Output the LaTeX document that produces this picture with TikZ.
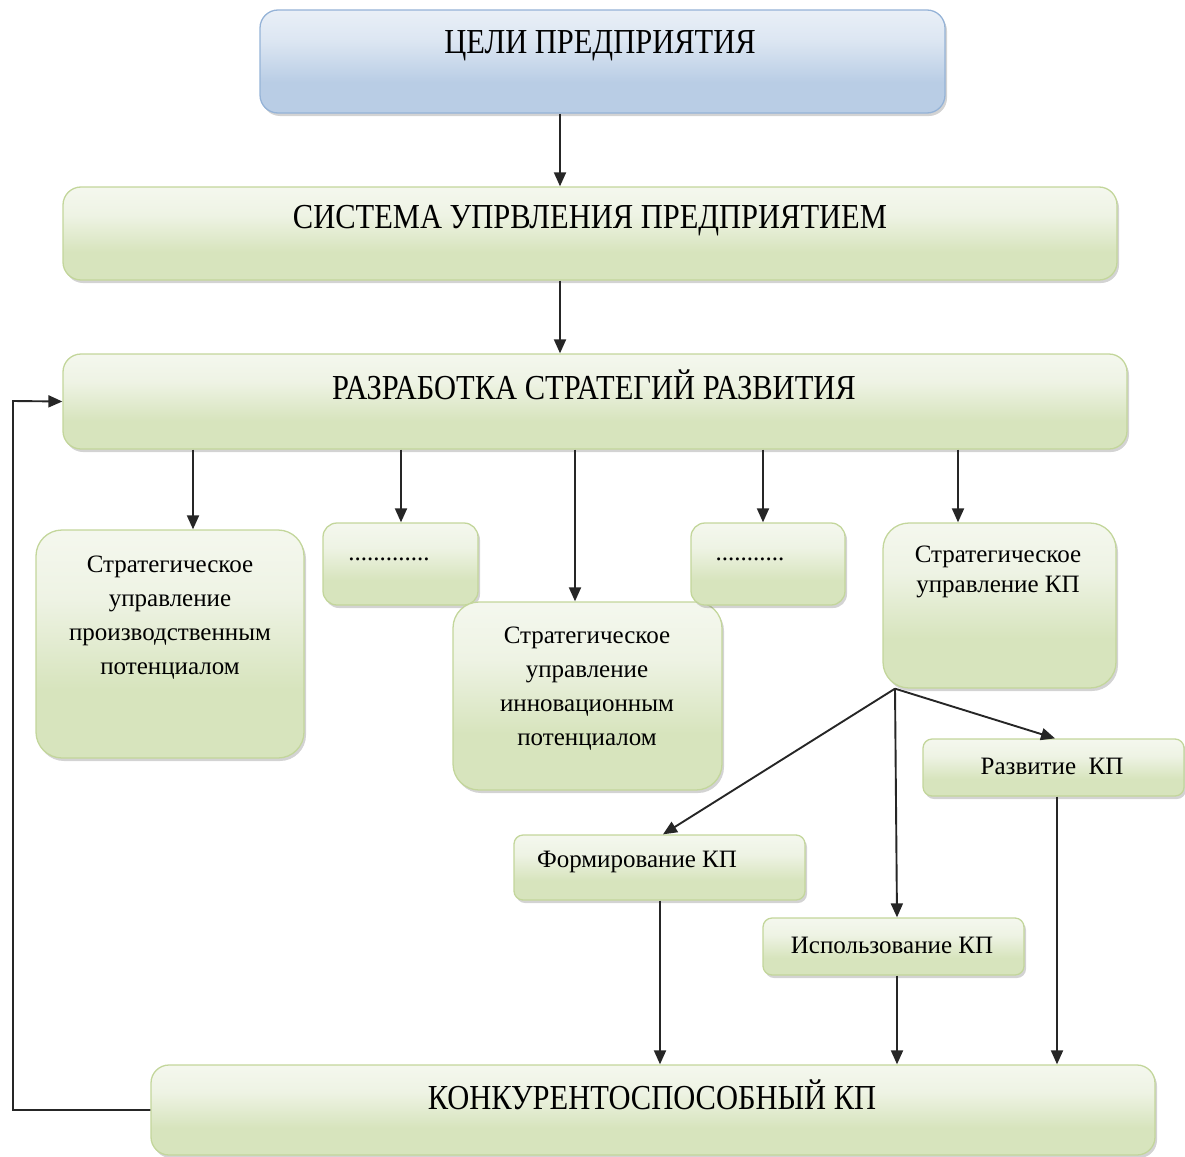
\documentclass[tikz,border=0pt]{standalone}
\usepackage{fontspec}
\setmainfont{Liberation Serif}
\usetikzlibrary{shadows,arrows.meta}
\definecolor{gfill}{HTML}{D7E4BD}
\definecolor{gmid}{HTML}{EEF3E4}
\definecolor{gline}{HTML}{C3D69B}
\definecolor{bfill}{HTML}{B9CDE5}
\definecolor{bmid}{HTML}{DCE6F2}
\definecolor{bline}{HTML}{95B3D7}
\pgfdeclareverticalshading{gsh}{100bp}{color(0bp)=(gfill);color(40bp)=(gfill);color(60bp)=(gmid);color(100bp)=(white)}
\pgfdeclareverticalshading{bsh}{100bp}{color(0bp)=(bfill);color(40bp)=(bfill);color(60bp)=(bmid);color(100bp)=(white)}
\newcommand{\vs}[1]{\scalebox{1}[1.15]{#1}}
\tikzset{
  gbox/.style={draw=gline, line width=1.3pt, shading=gsh, rounded corners=#1,
    drop shadow={shadow xshift=2pt, shadow yshift=-3pt, opacity=0.35, fill=gray},
    inner sep=0pt},
  gbox/.default=18pt,
  bbox/.style={draw=bline, line width=1.3pt, shading=bsh, rounded corners=18pt,
    drop shadow={shadow xshift=2pt, shadow yshift=-3pt, opacity=0.35, fill=gray},
    inner sep=0pt},
  big/.style={font=\fontsize{30.5}{34}\selectfont, inner sep=0pt},
  med/.style={font=\fontsize{25}{34}\selectfont, inner sep=0pt, align=center},
  arr/.style={-{Triangle[length=14pt,width=12pt]}, line width=1.9pt, black!85},
}
\begin{document}
\begin{tikzpicture}[x=1pt,y=-1pt]
\useasboundingbox (0,0) rectangle (1185,1156);
% boxes
\node[bbox, minimum width=685pt, minimum height=103pt] (goal) at (602.5,61.5) {};
\node[big] (goalt) at (600,46) {\vs{ЦЕЛИ ПРЕДПРИЯТИЯ}};
\node[gbox, minimum width=1054pt, minimum height=93pt] (sys) at (590,233.5) {};
\node[big] (syst) at (590,221) {\vs{СИСТЕМА УПРВЛЕНИЯ ПРЕДПРИЯТИЕМ}};
\node[gbox, minimum width=1064pt, minimum height=95pt] (dev) at (595,401.5) {};
\node[big] (devt) at (594,385) {\vs{РАЗРАБОТКА СТРАТЕГИЙ РАЗВИТИЯ}};
\node[gbox=26pt, minimum width=268pt, minimum height=228pt] (prod) at (170,644) {};
\node[med, anchor=north] (prodt) at (170,556) {Стратегическое\\управление\\производственным\\потенциалом};
\node[gbox=14pt, minimum width=155pt, minimum height=82pt] (dots1) at (400.5,564) {};
\node[med, anchor=base] (dots1t) at (389,560) {.............};
\node[gbox=26pt, minimum width=269pt, minimum height=188pt] (inn) at (587.5,696) {};
\node[med, anchor=north] (innt) at (587,627) {Стратегическое\\управление\\инновационным\\потенциалом};
\node[gbox=14pt, minimum width=154pt, minimum height=82pt] (dots2) at (768,564) {};
\node[med, anchor=base] (dots2t) at (750,560) {...........};
\node[gbox=26pt, minimum width=233pt, minimum height=165pt] (kp) at (999.5,605.5) {};
\node[med, anchor=north, font=\fontsize{25}{30}\selectfont] (kpt) at (998,546) {Стратегическое\\управление КП};
\node[gbox=9pt, minimum width=261pt, minimum height=57pt] (razv) at (1053.5,767.5) {};
\node[med] (razvt) at (1052,766) {Развитие\ \ КП};
\node[gbox=9pt, minimum width=291pt, minimum height=65pt] (form) at (659.5,867.5) {};
\node[med] (formt) at (637,862) {Формирование КП};
\node[gbox=9pt, minimum width=261pt, minimum height=57pt] (use) at (893.5,946.5) {};
\node[med] (uset) at (892,945) {Использование КП};
\node[gbox, minimum width=1004pt, minimum height=90pt] (comp) at (653,1110) {};
\node[big] (compt) at (652,1095) {\vs{КОНКУРЕНТОСПОСОБНЫЙ КП}};
% connectors
\draw[arr] (goal.south -| 560,0) -- (sys.north -| 560,0);
\draw[arr] (sys.south -| 560,0) -- (dev.north -| 560,0);
\draw[arr] (dev.south -| 193,0) -- (prod.north -| 193,0);
\draw[arr] (dev.south -| 401,0) -- (dots1.north -| 401,0);
\draw[arr] (dev.south -| 575,0) -- (inn.north -| 575,0);
\draw[arr] (dev.south -| 763,0) -- (dots2.north -| 763,0);
\draw[arr] (dev.south -| 958,0) -- (kp.north -| 958,0);
\coordinate (split) at (kp.south -| 895,0);
\draw[arr] (split) -- (form.north -| 663,0);
\draw[arr] (split) -- (use.north -| 897,0);
\draw[arr] (split) -- (razv.north -| 1055,0);
\draw[arr] (form.south -| 660,0) -- (comp.north -| 660,0);
\draw[arr] (use.south -| 897,0) -- (comp.north -| 897,0);
\draw[arr] (razv.south -| 1057,0) -- (comp.north -| 1057,0);
\coordinate (lb) at (13,1110);
\coordinate (lt) at (13,401);
\draw[arr] (comp.west) -- (lb) -- (lt) -- (dev.west);
\end{tikzpicture}
\end{document}
